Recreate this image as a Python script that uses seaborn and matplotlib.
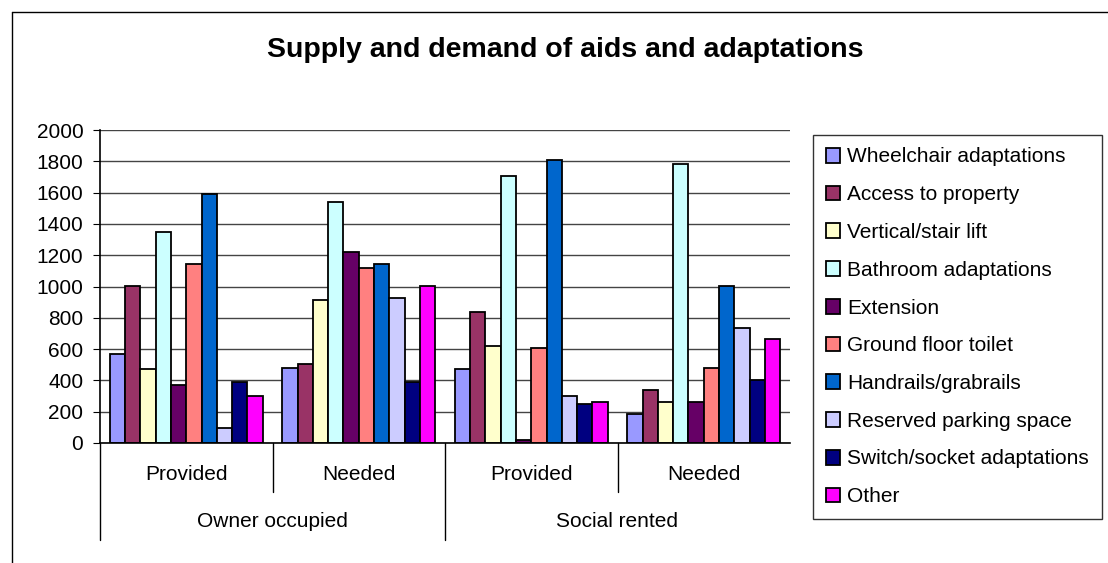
import pandas as pd
import seaborn as sns
import matplotlib.pyplot as plt
import matplotlib.transforms as mtransforms
from matplotlib.lines import Line2D

# categories
groups = ["Owner Provided", "Owner Needed", "Social Provided", "Social Needed"]
sub_labels = ["Provided", "Needed", "Provided", "Needed"]
top_labels = ["Owner occupied", "Social rented"]
items = ["Wheelchair adaptations", "Access to property", "Vertical/stair lift",
         "Bathroom adaptations", "Extension", "Ground floor toilet",
         "Handrails/grabrails", "Reserved parking space",
         "Switch/socket adaptations", "Other"]

# values per group, in the order of items
owner_provided = [570, 1005, 470, 1347, 370, 1145, 1590, 97, 390, 303]
owner_needed = [480, 507, 915, 1540, 1222, 1120, 1145, 927, 390, 1005]
social_provided = [470, 838, 620, 1705, 18, 607, 1808, 303, 252, 265]
social_needed = [186, 340, 262, 1785, 262, 480, 1005, 735, 405, 662]

colors = ["#9999FF", "#993366", "#FFFFCC", "#CCFFFF", "#660066",
          "#FF8080", "#0066CC", "#CCCCFF", "#000080", "#FF00FF"]

rows = []
for g, vals in zip(groups, [owner_provided, owner_needed, social_provided, social_needed]):
    for it, v in zip(items, vals):
        rows.append({"group": g, "item": it, "value": v})
df = pd.DataFrame(rows)

sns.set_style("white")
plt.rcParams["font.family"] = ["Liberation Sans", "DejaVu Sans"]
plt.rcParams["text.color"] = "black"
plt.rcParams["ytick.color"] = "black"

fig = plt.figure(figsize=(11.08, 5.63), dpi=100)
ax = fig.add_axes([100 / 1108, 1 - 443 / 563, 690 / 1108, 313 / 563])

sns.barplot(data=df, x="group", y="value", hue="item", order=groups,
            hue_order=items, palette=colors, saturation=1, edgecolor="black",
            linewidth=1.3, width=0.885, gap=0, ax=ax, legend=True)

ax.set_ylim(0, 2000)
ax.set_xlim(-0.5, 3.5)
ax.set_yticks(range(0, 2001, 200))
ax.yaxis.grid(True, color="#444444", linewidth=1.0)
ax.set_axisbelow(True)
ax.tick_params(axis="y", labelsize=15, length=5, pad=7, color="black", direction="out", left=True)
ax.set_xticks([])
ax.set_xlabel("")
ax.set_ylabel("")
for s in ["top", "right"]:
    ax.spines[s].set_visible(False)
ax.spines["left"].set_color("black")
ax.spines["bottom"].set_color("black")
ax.spines["left"].set_linewidth(1.2)
ax.spines["bottom"].set_linewidth(1.2)

# two-level category axis
trans = mtransforms.blended_transform_factory(ax.transData, ax.transAxes)
for i, lab in enumerate(sub_labels):
    ax.text(i, -0.1, lab, transform=trans, ha="center", va="center", fontsize=15)
for j, lab in enumerate(top_labels):
    ax.text(2 * j + 0.5, -0.25, lab, transform=trans, ha="center", va="center", fontsize=15)
for xb, yb in [(-0.5, -0.31), (0.5, -0.157), (1.5, -0.31), (2.5, -0.157)]:
    ax.add_line(Line2D([xb, xb], [0, yb], transform=trans, color="black",
                       linewidth=1.0, clip_on=False))

leg = ax.legend(loc="upper left", bbox_to_anchor=(813 / 1108, 1 - 135 / 563),
                bbox_transform=fig.transFigure, borderaxespad=0, frameon=True,
                fancybox=False, fontsize=15, handlelength=0.7, handleheight=0.7,
                handletextpad=0.35, labelspacing=0.9, borderpad=0.6,
                edgecolor="black")
leg.get_frame().set_linewidth(1.0)

fig.text(565 / 1108, 1 - 50 / 563, "Supply and demand of aids and adaptations",
         ha="center", va="center", fontsize=20.5, fontweight="bold")

# outer chart border
fig.add_artist(Line2D([12 / 1108, 12 / 1108], [0, 1 - 12 / 563], transform=fig.transFigure,
                      color="black", linewidth=1.0))
fig.add_artist(Line2D([12 / 1108, 1], [1 - 12 / 563, 1 - 12 / 563], transform=fig.transFigure,
                      color="black", linewidth=1.0))

fig.savefig("out.png", dpi=100)
